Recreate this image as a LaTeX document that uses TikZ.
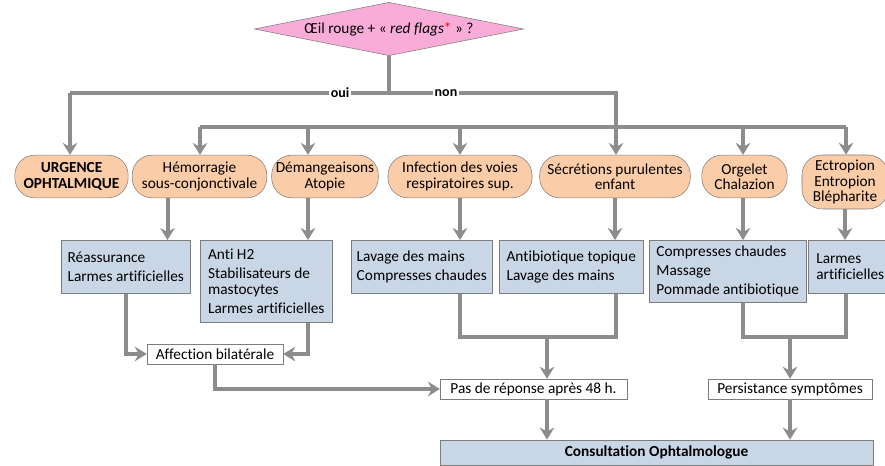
\documentclass[tikz,border=0pt]{standalone}
\usepackage{fontspec}
\setmainfont[Ligatures=NoCommon]{Carlito}
\usetikzlibrary{arrows.meta,shapes.geometric}

\definecolor{peach}{RGB}{251,204,168}
\definecolor{steel}{RGB}{200,214,230}
\definecolor{pinkq}{RGB}{249,172,216}
\definecolor{wire}{RGB}{140,140,140}
\definecolor{rim}{RGB}{125,125,125}

\begin{document}
\begin{tikzpicture}[x=0.75pt,y=-0.75pt,>={Stealth[length=9pt,width=11pt,inset=3pt]},
                    font=\fontsize{11.5}{11.5}\selectfont]
  \tikzstyle{question}=[diamond,aspect=5,draw=rim,fill=pinkq,minimum width=202pt,
                        minimum height=40pt,inner sep=0pt]
  \tikzstyle{oval}=[rectangle,rounded corners=15pt,draw=rim,fill=peach,align=center,
                    minimum height=32pt,inner xsep=2pt]
  \tikzstyle{treat}=[rectangle,draw=rim,fill=steel,align=left,anchor=north west,
                     inner xsep=3pt,font=\fontsize{11.5}{12}\selectfont]
  \tikzstyle{outcome}=[rectangle,draw=rim,fill=white,minimum height=15pt,inner sep=1pt]
  \tikzstyle{line}=[draw=wire,line width=3pt]
  \tikzstyle{arr}=[line,->]
  \tikzstyle{lab}=[fill=white,inner sep=1pt,font=\fontsize{10.5}{10.5}\selectfont\bfseries]

  \useasboundingbox (0,0) rectangle (885,466);

  \node[question] (q) at (389,29) {Œil rouge + « \textit{red flags}\textcolor{red}{*} » ?};

  \node[oval,minimum width=85pt,font=\fontsize{11.5}{11.5}\selectfont\bfseries]
                                  (urg) at (71.5,176.5) {URGENCE\\OPHTALMIQUE};
  \node[oval,minimum width=101pt] (hem) at (199.5,176.5) {Hémorragie\\sous-conjonctivale};
  \node[oval,minimum width=80pt]  (dem) at (325,176.5) {Démangeaisons\\Atopie};
  \node[oval,minimum width=108pt] (inf) at (460,176.5) {Infection des voies\\respiratoires sup.};
  \node[oval,minimum width=113pt] (sec) at (615,176.5) {Sécrétions purulentes\\enfant};
  \node[oval,minimum width=64pt]  (org) at (744.5,176.5) {Orgelet\\Chalazion};
  \node[oval,minimum width=64.5pt,minimum height=40.5pt]
                                  (ect) at (845,182) {Ectropion\\Entropion\\Blépharite};

  \node[treat,minimum width=96.75pt,minimum height=39.75pt] (rea) at (61,240)
       {Réassurance\\[2pt]Larmes artificielles};
  \node[treat,minimum width=99pt,minimum height=61.5pt] (anti) at (200,240)
       {Anti H2\\[2pt]Stabilisateurs de\\mastocytes\\[2pt]Larmes artificielles};
  \node[treat,minimum width=105.75pt,minimum height=39.75pt] (lav) at (351,240)
       {Lavage des mains\\[2pt]Compresses chaudes};
  \node[treat,minimum width=108pt,minimum height=39.75pt] (atb) at (499,240)
       {Antibiotique topique\\[2pt]Lavage des mains};
  \node[treat,minimum width=117.75pt,minimum height=46.5pt] (cmp) at (649,240)
       {Compresses chaudes\\[2pt]Massage\\[2pt]Pommade antibiotique};
  \node[treat,inner xsep=5pt,minimum width=63pt,minimum height=39.75pt] (lar) at (808,240)
       {Larmes\\artificielles};

  \node[outcome,minimum width=102pt] (aff) at (215,354) {Affection bilatérale};
  \node[outcome,minimum width=140pt] (pas) at (533.5,389) {Pas de réponse après 48 h.};
  \node[outcome,minimum width=123pt] (per) at (790,389) {Persistance symptômes};
  \node[rectangle,draw=rim,fill=steel,minimum width=325pt,minimum height=19pt,
        font=\fontsize{11.5}{11.5}\selectfont\bfseries] (con) at (656.5,452.5)
       {Consultation Ophtalmologue};

  % top of the tree
  \coordinate (top) at (389,93);
  \coordinate (oui) at (70,93);
  \coordinate (non) at (616,93);
  \coordinate (c1) at (200,127);
  \coordinate (c2) at (308,127);
  \coordinate (c3) at (460,127);
  \coordinate (c4) at (616,127);
  \coordinate (c5) at (743,127);
  \coordinate (c6) at (846,127);

  \draw[line] (q.south) -- (top);
  \draw[line] (oui) -- (non) -- (c4);
  \draw[line] (c1) -- (c6);
  \draw[arr] (oui) -- (oui |- urg.north);
  \foreach \c/\n in {c1/hem,c2/dem,c3/inf,c4/sec,c5/org,c6/ect}
    \draw[arr] (\c) -- (\c |- \n.north);

  \node[lab] (loui) at (340,93) {oui};
  \node[lab] (lnon) at (446,93) {non};

  % towards the treatments
  \draw[arr] ([xshift=-24pt]hem.south) -- ([xshift=-24pt]hem.south |- rea.north);
  \draw[arr] (dem.south -| c2) -- (c2 |- anti.north);
  \draw[arr] (inf.south) -- (inf.south |- lav.north);
  \draw[arr] (sec.south) -- (sec.south |- atb.north);
  \draw[arr] (org.south -| c5) -- (c5 |- cmp.north);
  \draw[arr] (ect.south) -- (ect.south |- lar.north);

  % follow-up
  \draw[arr] (rea.south) |- (aff.west);
  \draw[arr] (anti.south -| c2) |- (aff.east);
  \draw[arr] (aff.south) |- (pas.west);

  \coordinate (m1) at (547,337);
  \coordinate (m2) at (790,337);
  \draw[line] (lav.south -| c3) |- (m1) -| (atb.south -| c4);
  \draw[arr] (m1) -- (m1 |- pas.north);
  \draw[arr] (pas.south -| m1) -- (m1 |- con.north);
  \draw[line] (cmp.south -| c5) |- (m2) -| (lar.south -| c6);
  \draw[arr] (m2) -- (m2 |- per.north);
  \draw[arr] (per.south) -- (per.south |- con.north);
\end{tikzpicture}
\end{document}
